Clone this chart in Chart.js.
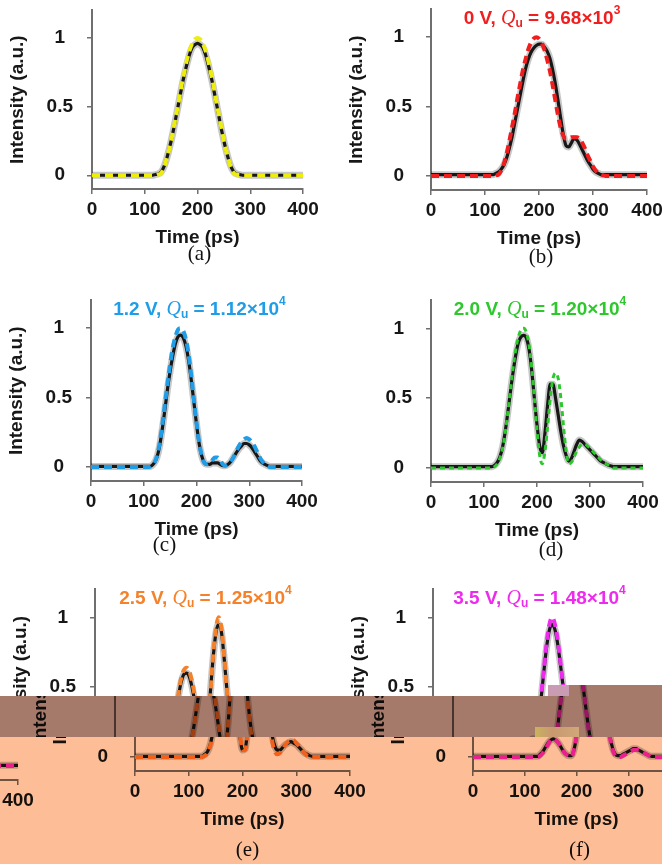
<!DOCTYPE html>
<html>
<head>
<meta charset="utf-8">
<script src="https://cdn.jsdelivr.net/npm/chart.js@4.4.1/dist/chart.umd.min.js"></script>
<style>
  html, body { margin: 0; padding: 0; background: #fff; overflow: hidden; }
  #fig { position: relative; width: 662px; height: 864px; overflow: hidden; background: #fff; }
  .layer { position: absolute; left: 0; top: 0; width: 662px; height: 864px; overflow: hidden; }
  .layer canvas { position: absolute; }
  .tint { position: absolute; left: 0; top: 0; width: 662px; height: 864px; mix-blend-mode: multiply; }
  .speck { position: absolute; }
</style>
</head>
<body>
<div id="fig">
  <div class="layer" id="base"></div>
  <div class="layer" id="brown" style="background:#fff; clip-path: polygon(0 696px, 548px 696px, 548px 685px, 662px 685px, 662px 737px, 0 737px);">
    <div class="tint" style="background:#a67a6a"></div>
  </div>
  <div class="layer" id="peach" style="background:#fff; clip-path: inset(737px 0 0 0);">
    <div class="tint" style="background:#fdbd96"></div>
  </div>
  <div class="speck" style="left:548px; top:685px; width:21px; height:11px; background:#c99cb4"></div>
  <div class="speck" style="left:535px; top:727px; width:44px; height:10px; background:linear-gradient(90deg,#c9b25e,#c99870 40%,#d0a878)"></div>
</div>
<script>
// time axis (ps), 5 ps steps
var timePs = [0,5,10,15,20,25,30,35,40,45,50,55,60,65,70,75,80,85,90,95,
  100,105,110,115,120,125,130,135,140,145,150,155,160,165,170,175,180,185,190,195,
  200,205,210,215,220,225,230,235,240,245,250,255,260,265,270,275,280,285,290,295,
  300,305,310,315,320,325,330,335,340,345,350,355,360,365,370,375,380,385,390,395,400];

// (a) input pulse
var fitA = [0,0,0,0,0,0,0,0,0,0, 0,0,0,0,0,0,0,0,0,0,
  0,0,0,0,0,0.005,0.01,0.04,0.1,0.17,
  0.25,0.35,0.45,0.55,0.66,0.75,0.84,0.91,0.96,0.99,
  1,0.99,0.96,0.91,0.84,0.75,0.66,0.55,0.45,0.35,
  0.25,0.17,0.1,0.04,0.01,0.005,0,0,0,0,
  0,0,0,0,0,0,0,0,0,0, 0,0,0,0,0,0,0,0,0,0, 0];
var measA = [0,0,0,0,0,0,0,0,0,0, 0,0,0,0,0,0,0,0,0,0,
  0,0,0,0,0.005,0.01,0.02,0.05,0.1,0.17,
  0.25,0.34,0.44,0.54,0.64,0.73,0.81,0.88,0.93,0.95,
  0.96,0.95,0.93,0.88,0.81,0.73,0.64,0.54,0.44,0.34,
  0.25,0.17,0.1,0.05,0.02,0.01,0.005,0,0,0,
  0,0,0,0,0,0,0,0,0,0, 0,0,0,0,0,0,0,0,0,0, 0];

// (b) 0 V
var fitB = [0,0,0,0,0,0,0,0,0,0, 0,0,0,0,0,0,0,0,0,0,
  0,0,0,0,0.005,0.01,0.04,0.09,0.16,0.25,
  0.35,0.45,0.56,0.66,0.76,0.84,0.91,0.96,0.99,1,
  0.99,0.96,0.91,0.84,0.76,0.66,0.55,0.44,0.35,0.29,
  0.27,0.27,0.28,0.28,0.28,0.27,0.24,0.2,0.15,0.11,
  0.07,0.04,0.02,0.01,0.005,0,0,0,0,0,
  0,0,0,0,0,0,0,0,0,0, 0];
var measB = [0.01,0.01,0.01,0.01,0.01,0.01,0.01,0.01,0.01,0.01, 0.01,0.01,0.01,0.01,0.01,0.01,0.01,0.01,0.01,0.01,
  0.01,0.01,0.01,0.01,0.02,0.03,0.05,0.08,0.13,0.2,
  0.28,0.38,0.48,0.58,0.68,0.77,0.84,0.89,0.92,0.94,
  0.95,0.95,0.93,0.9,0.85,0.77,0.67,0.55,0.42,0.3,
  0.22,0.21,0.24,0.27,0.26,0.23,0.19,0.15,0.11,0.08,
  0.05,0.03,0.02,0.01,0.01,0.01,0.01,0.01,0.01,0.01,
  0.01,0.01,0.01,0.01,0.01,0.01,0.01,0.01,0.01,0.01, 0.01];

// (c) 1.2 V
var fitC = [0,0,0,0,0,0,0,0,0,0, 0,0,0,0,0,0,0,0,0,0,
  0,0,0,0.01,0.03,0.08,0.17,0.3,0.45,0.6,
  0.74,0.86,0.94,0.99,1,0.98,0.92,0.81,0.66,0.49,
  0.32,0.18,0.08,0.03,0.02,0.03,0.05,0.07,0.07,0.05,
  0.02,0.01,0.02,0.04,0.07,0.11,0.15,0.18,0.2,0.21,
  0.2,0.18,0.15,0.11,0.07,0.04,0.02,0.01,0,0,
  0,0,0,0,0,0,0,0,0,0, 0];
var measC = [0.005,0.005,0.005,0.005,0.005,0.005,0.005,0.005,0.005,0.005, 0.005,0.005,0.005,0.005,0.005,0.005,0.005,0.005,0.005,0.005,
  0.005,0.005,0.005,0.01,0.03,0.07,0.15,0.27,0.41,0.56,
  0.69,0.8,0.89,0.94,0.95,0.93,0.87,0.77,0.63,0.47,
  0.31,0.17,0.08,0.03,0.02,0.02,0.03,0.03,0.03,0.02,
  0.01,0.01,0.02,0.04,0.07,0.1,0.13,0.15,0.17,0.17,
  0.16,0.14,0.11,0.08,0.05,0.03,0.02,0.01,0.005,0.005,
  0.005,0.005,0.005,0.005,0.005,0.005,0.005,0.005,0.005,0.005, 0.005];

// (d) 2.0 V
var fitD = [0,0,0,0,0,0,0,0,0,0, 0,0,0,0,0,0,0,0,0,0,
  0,0,0,0,0.01,0.03,0.07,0.14,0.25,0.4,
  0.56,0.72,0.85,0.94,0.99,1,0.97,0.88,0.72,0.5,
  0.27,0.09,0.03,0.12,0.3,0.5,0.64,0.68,0.64,0.5,
  0.3,0.12,0.03,0.04,0.08,0.12,0.15,0.17,0.17,0.16,
  0.14,0.12,0.1,0.08,0.06,0.04,0.03,0.02,0.01,0,
  0,0,0,0,0,0,0,0,0,0, 0];
var measD = [0.01,0.01,0.01,0.01,0.01,0.01,0.01,0.01,0.01,0.01, 0.01,0.01,0.01,0.01,0.01,0.01,0.01,0.01,0.01,0.01,
  0.01,0.01,0.01,0.01,0.02,0.04,0.08,0.15,0.26,0.4,
  0.55,0.69,0.81,0.9,0.94,0.95,0.93,0.85,0.7,0.5,
  0.31,0.16,0.11,0.25,0.45,0.6,0.6,0.5,0.38,0.26,
  0.16,0.09,0.05,0.07,0.12,0.17,0.2,0.19,0.17,0.15,
  0.13,0.11,0.09,0.07,0.05,0.04,0.03,0.02,0.015,0.01,
  0.01,0.01,0.01,0.01,0.01,0.01,0.01,0.01,0.01,0.01, 0.01];

// (e) 2.5 V
var fitE = [0,0,0,0,0,0,0,0,0,0, 0,0,0,0,0,0,0,0,0,0,
  0,0,0,0,0,0,0.01,0.03,0.08,0.17,
  0.3,0.45,0.56,0.62,0.64,0.62,0.55,0.45,0.32,0.17,
  0.05,0.05,0.2,0.48,0.74,0.92,1,0.93,0.74,0.5,
  0.28,0.12,0.04,0.02,0.03,0.06,0.09,0.11,0.12,0.12,
  0.1,0.08,0.05,0.03,0.01,0,0,0,0,0,
  0,0,0,0,0,0,0,0,0,0, 0];
var measE = [0.005,0.005,0.005,0.005,0.005,0.005,0.005,0.005,0.005,0.005, 0.005,0.005,0.005,0.005,0.005,0.005,0.005,0.005,0.005,0.005,
  0.005,0.005,0.005,0.005,0.005,0.005,0.02,0.04,0.09,0.18,
  0.3,0.43,0.53,0.59,0.6,0.58,0.51,0.41,0.29,0.15,
  0.05,0.06,0.22,0.48,0.72,0.89,0.95,0.9,0.72,0.5,
  0.3,0.16,0.08,0.05,0.05,0.07,0.09,0.1,0.11,0.1,
  0.09,0.07,0.05,0.03,0.02,0.01,0.005,0.005,0.005,0.005,
  0.005,0.005,0.005,0.005,0.005,0.005,0.005,0.005,0.005,0.005, 0.005];

// (f) 3.5 V
var fitF = [0,0,0,0,0,0,0,0,0,0, 0,0,0,0,0,0,0,0,0,0,
  0,0,0,0,0,0,0.01,0.03,0.06,0.09,
  0.12,0.13,0.12,0.1,0.07,0.04,0.02,0.01,0,0.05,
  0.15,0.3,0.47,0.66,0.83,0.95,1,0.96,0.86,0.72,
  0.56,0.4,0.25,0.13,0.05,0.01,0,0,0.01,0.02,
  0.03,0.04,0.05,0.05,0.05,0.04,0.03,0.02,0.01,0,
  0,0,0,0,0,0,0,0,0,0, 0];
var measF = [0.005,0.005,0.005,0.005,0.005,0.005,0.005,0.005,0.005,0.005, 0.005,0.005,0.005,0.005,0.005,0.005,0.005,0.005,0.005,0.005,
  0.005,0.005,0.005,0.005,0.005,0.005,0.02,0.04,0.07,0.1,
  0.12,0.13,0.12,0.1,0.07,0.04,0.02,0.01,0.01,0.05,
  0.15,0.3,0.46,0.64,0.8,0.91,0.95,0.92,0.83,0.7,
  0.55,0.4,0.26,0.14,0.06,0.02,0.01,0.01,0.02,0.03,
  0.04,0.05,0.06,0.06,0.05,0.04,0.03,0.02,0.01,0.005,
  0.005,0.005,0.005,0.005,0.005,0.005,0.005,0.005,0.005,0.005, 0.005];

var yTicks = [0, 0.5, 1];
var xTicks = [0, 100, 200, 300, 400];
var voltLabels = ['', '0 V', '1.2 V', '2.0 V', '2.5 V', '3.5 V'];
var qLabels = ['', '9.68', '1.12', '1.20', '1.25', '1.48'];
var qExps = ['', '3', '4', '4', '4', '4'];
var captions = ['(a)', '(b)', '(c)', '(d)', '(e)', '(f)'];

var sans = "'Liberation Sans', Arial, Helvetica, sans-serif";
var serif = "'Liberation Serif', 'Times New Roman', serif";
var ink = '#171717';
var axisGray = '#6f6f6f';
Chart.defaults.font.family = sans;

// layout of each panel in page pixels (plot area corners)
var panels = [
  { x0: 92,  x1: 303, y0: 5,   y1: 189, fit: fitA, meas: measA, color: '#eeee0c', dash: [8, 5], lw: 4, yTitle: true,  capDx: 2,   capDy: 65 },
  { x0: 431, x1: 647, y0: 4,   y1: 190, fit: fitB, meas: measB, color: '#f01e1e', dash: [8, 5], lw: 4, yTitle: true,  capDx: 2,   capDy: 67 },
  { x0: 91,  x1: 302, y0: 295, y1: 481, fit: fitC, meas: measC, color: '#1f9de6', dash: [8, 5], lw: 4, yTitle: true,  capDx: -32, capDy: 64 },
  { x0: 431, x1: 643, y0: 295, y1: 482, fit: fitD, meas: measD, color: '#2cc82c', dash: [5, 4], lw: 3, yTitle: false, capDx: 14,  capDy: 68 },
  { x0: 95,  x1: 310, y0: 584, y1: 771, fit: fitE, meas: measE, color: '#f5822a', dash: [8, 5], lw: 4, yTitle: true,  capDx: 5,   capDy: 79 },
  { x0: 433, x1: 640, y0: 584, y1: 771, fit: fitF, meas: measF, color: '#ee2aee', dash: [8, 5], lw: 4, yTitle: true,  capDx: 3,   capDy: 79 }
];

var panelText = {
  id: 'panelText',
  afterDraw: function(chart, args, o) {
    var ctx = chart.ctx, a = chart.chartArea;
    var mid = (a.left + a.right) / 2;
    ctx.save();
    ctx.textBaseline = 'middle';
    if (o.volt) {
      var big = 'bold 19px ' + sans, small = 'bold 12px ' + sans;
      var parts = [
        { t: o.volt + ', ', f: big, dy: 0 },
        { t: 'Q', f: 'italic 20px ' + serif, dy: 0 },
        { t: 'u', f: small, dy: 5 },
        { t: ' = ' + o.q + '\u00d710', f: big, dy: 0 },
        { t: o.exp, f: small, dy: -8 }
      ];
      var w = 0;
      parts.forEach(function(p) { ctx.font = p.f; p.w = ctx.measureText(p.t).width; w += p.w; });
      var x = mid + 3 - w / 2, y = a.top + 9;
      ctx.fillStyle = o.color;
      ctx.textAlign = 'left';
      parts.forEach(function(p) { ctx.font = p.f; ctx.fillText(p.t, x, y + p.dy); x += p.w; });
    }
    ctx.fillStyle = '#111';
    ctx.textAlign = 'center';
    ctx.font = '21px ' + serif;
    ctx.fillText(o.caption, mid + o.capDx, a.bottom + o.capDy);
    ctx.restore();
  }
};

function toXY(vals) {
  return timePs.map(function(t, i) { return { x: t, y: vals[i] }; });
}

function makePanel(parent, idx, dx, dy) {
  var p = panels[idx];
  var h = p.y1 - p.y0 + 115;
  var c = document.createElement('canvas');
  c.width = 700; c.height = h;
  c.style.width = '700px'; c.style.height = h + 'px';
  c.style.left = dx + 'px';
  c.style.top = (p.y0 - 20 + dy) + 'px';
  parent.insertBefore(c, parent.querySelector('.tint'));

  var tickFont = { family: sans, size: 19, weight: 'bold' };
  return new Chart(c, {
    type: 'line',
    data: {
      datasets: [
        { data: toXY(p.fit), borderColor: p.color, borderWidth: p.lw, borderDash: p.dash, pointRadius: 0, cubicInterpolationMode: 'monotone' },
        { data: toXY(p.meas), borderColor: ink, borderWidth: 3.2, pointRadius: 0, cubicInterpolationMode: 'monotone' },
        { data: toXY(p.meas), borderColor: 'rgba(0,0,0,0.22)', borderWidth: 7, pointRadius: 0, cubicInterpolationMode: 'monotone' }
      ]
    },
    options: {
      responsive: false,
      animation: false,
      devicePixelRatio: 1,
      events: [],
      layout: { padding: { left: p.x0 - 86, right: 700 - p.x1, top: 20, bottom: 31 } },
      plugins: {
        legend: { display: false },
        tooltip: { enabled: false },
        panelText: { volt: voltLabels[idx], q: qLabels[idx], exp: qExps[idx], color: p.color,
                     caption: captions[idx], capDx: p.capDx, capDy: p.capDy }
      },
      scales: {
        x: {
          type: 'linear', min: 0, max: 400,
          afterFit: function(s) { s.height = 64; },
          afterBuildTicks: function(s) { s.ticks = xTicks.map(function(v) { return { value: v }; }); },
          border: { display: true, color: axisGray, width: 2 },
          grid: { display: true, drawOnChartArea: false, drawTicks: true, tickLength: 5, color: axisGray, lineWidth: 1.5 },
          ticks: { padding: 4, font: tickFont, color: ink, maxRotation: 0, autoSkip: false,
                   callback: function(v) { return String(v); } },
          title: { display: true, text: 'Time (ps)', font: tickFont, color: ink, padding: { top: 0, bottom: 3.6 } }
        },
        y: {
          type: 'linear', min: -0.1, max: 1.2,
          afterFit: function(s) { s.width = 86; },
          afterBuildTicks: function(s) { s.ticks = yTicks.map(function(v) { return { value: v }; }); },
          border: { display: true, color: axisGray, width: 2 },
          grid: { display: true, drawOnChartArea: false, drawTicks: true, tickLength: 5, color: axisGray, lineWidth: 1.5 },
          ticks: { crossAlign: 'center', padding: 14, font: tickFont, color: ink,
                   callback: function(v) { return String(v); } },
          title: { display: p.yTitle, text: 'Intensity (a.u.)', font: tickFont, color: ink, padding: { top: 0.6, bottom: 0 } }
        }
      }
    },
    plugins: [panelText]
  });
}

var base = document.getElementById('base');
var brown = document.getElementById('brown');
var peach = document.getElementById('peach');

for (var i = 0; i < 6; i++) makePanel(base, i, 0, 0);
// torn strips of the bottom row
makePanel(brown, 4, 20, 0);
makePanel(brown, 5, 20, 0);
makePanel(peach, 4, 40, 0);
makePanel(peach, 5, 40, 0);
makePanel(peach, 5, 40 - 662, 9);
</script>
</body>
</html>
